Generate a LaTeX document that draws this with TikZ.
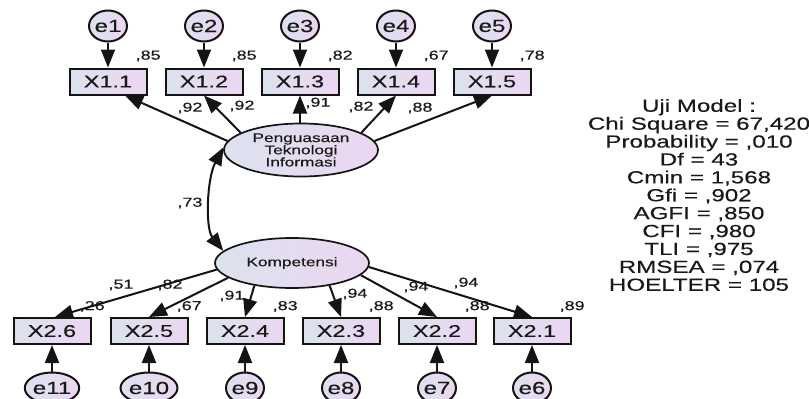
\documentclass[tikz,border=0pt]{standalone}
\usepackage{fontspec}
\setmainfont{Liberation Sans}[FakeStretch=1.38,FakeBold=0.3]
\usetikzlibrary{arrows.meta,shapes.geometric,calc}
\definecolor{cl}{RGB}{220,226,238}
\definecolor{cr}{RGB}{236,214,242}
\definecolor{ln}{RGB}{20,20,20}
\definecolor{tx}{RGB}{25,25,25}
\tikzset{
  obs/.style={draw=ln, line width=2pt, rectangle, minimum width=77pt, minimum height=26pt, inner sep=0pt, left color=cl, right color=cr, text=tx, font=\fontsize{17}{17}\selectfont},
  err/.style={draw=ln, line width=2pt, ellipse, minimum width=37pt, minimum height=31pt, inner sep=0pt, left color=cl, right color=cr, text=tx, font=\fontsize{17.5}{17.5}\selectfont},
  lat/.style={draw=ln, line width=1.7pt, ellipse, minimum width=154pt, inner sep=0pt, left color=cl, right color=cr, align=center, text=tx},
  arr/.style={draw=ln, line width=2pt, -{Triangle[length=18pt,width=14pt]}},
  darr/.style={draw=ln, line width=2pt, {Triangle[length=18pt,width=14pt]}-{Triangle[length=18pt,width=14pt]}},
  num/.style={font=\fontsize{13}{13}\selectfont, inner sep=0pt, text=tx},
}
\begin{document}
\begin{tikzpicture}[x=1pt,y=-1pt]
\useasboundingbox[fill=white] (0,0) rectangle (809,399);
% top error terms and indicators
\foreach \i/\xx in {1/108,2/204,3/300,4/396,5/492}{
  \node[err] (e\i) at (\xx,26) {e\i};
  \node[obs] (x1\i) at (\xx,81.5) {X1.\i};
  \draw[arr] (e\i) -- (x1\i);
}
% latent variables
\node[lat, minimum height=53pt, font=\fontsize{12.5}{12.2}\selectfont] (P) at (301,150) {Penguasaan\\Teknologi\\Informasi};
\node[lat, minimum height=50pt, font=\fontsize{12.5}{12.5}\selectfont] (K) at (292,263) {Kompetensi};
% bottom indicators and errors
\foreach \j/\k/\xx in {6/11/52,5/10/149,4/9/245,3/8/341,2/7/437,1/6/532}{
  \node[obs] (x2\j) at (\xx,331) {X2.\j};
  \node[err] (e\k) at (\xx,388) {e\k};
  \draw[arr] (e\k) -- (x2\j);
}
% structural paths top
\draw[arr] (P.173) -- ($(x11.south)+(17,0)$);
\draw[arr] (P.164) -- (x12.south);
\draw[arr] (x13.south |- P.north) -- (x13.south);
\draw[arr] (P.16) -- (x14.south);
\draw[arr] (P.7) -- (x15.south);
% structural paths bottom
\draw[arr] (K.185) -- ($(x26.north)+(3,0)$);
\draw[arr] (K.193) -- (x25.north);
\draw[arr] (K.211) -- (x24.north);
\draw[arr] (K.329) -- (x23.north);
\draw[arr] (K.350) -- (x22.north);
\draw[arr] (K.357) -- (x21.north);
% covariance
\draw[darr] (P.178) .. controls (207,178) and (205,228) .. (K.170);
\node[num] (c73) at (190,203) {,73};
% variance labels
\foreach \n/\v in {x11/85,x12/85,x13/82,x14/67,x15/78}{
  \node[num, anchor=south west] (r\n) at ($(\n.north east)+(-12,-6)$) {,\v};
}
\foreach \n/\v in {x26/26,x25/67,x24/83,x23/88,x22/88,x21/89}{
  \node[num, anchor=south west] (r\n) at ($(\n.north east)+(-12,-5)$) {,\v};
}
% loadings top
\node[num] (l11) at (190,108) {,92};
\node[num] (l12) at (242,106) {,92};
\node[num] (l13) at (318,103) {,91};
\node[num] (l14) at (361,107) {,82};
\node[num] (l15) at (420,108) {,88};
% loadings bottom
\node[num] (l26) at (121,285) {,51};
\node[num] (l25) at (170,285) {,82};
\node[num] (l24) at (232,296) {,91};
\node[num] (l23) at (355,294) {,94};
\node[num] (l22) at (416,287) {,94};
\node[num] (l21) at (466,283) {,94};
% model fit
\node[align=center, inner sep=0pt, text=tx, font=\fontsize{17.5}{17.9}\selectfont] (stats) at (699,195)
 {Uji Model :\\Chi Square = 67,420\\Probability = ,010\\Df = 43\\Cmin = 1,568\\Gfi = ,902\\AGFI = ,850\\CFI = ,980\\TLI = ,975\\RMSEA = ,074\\HOELTER = 105};
\end{tikzpicture}
\end{document}
